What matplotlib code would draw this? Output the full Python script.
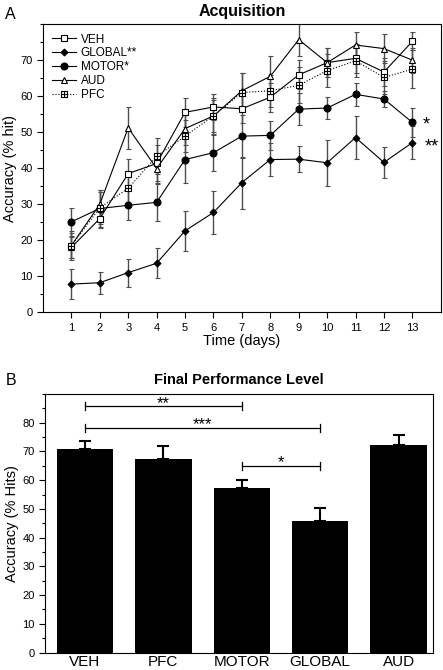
import numpy as np
import matplotlib
matplotlib.use('Agg')
import matplotlib.pyplot as plt
from matplotlib.path import Path
from matplotlib.ticker import MultipleLocator

plt.rcParams['font.family'] = ['Liberation Sans', 'DejaVu Sans']

# ---- panel A data (acquisition curves) ----
days = np.arange(1, 14)
veh = [18.0, 26.0, 38.5, 41.3, 55.5, 57.0, 56.5, 59.7, 65.9, 69.3, 70.5, 66.7, 75.2]
veh_err = [3.0, 2.5, 4.0, 5.0, 4.0, 3.5, 4.0, 4.0, 4.0, 4.0, 4.0, 4.0, 2.5]
glob = [7.8, 8.2, 11.0, 13.6, 22.6, 27.7, 36.0, 42.4, 42.5, 41.5, 48.5, 41.6, 47.1]
glob_err = [4.1, 3.1, 3.9, 4.2, 5.5, 6.0, 7.2, 4.6, 3.6, 6.4, 6.0, 4.4, 4.6]
motor = [25.1, 28.8, 29.7, 30.5, 42.4, 44.3, 48.9, 49.1, 56.4, 56.7, 60.5, 59.2, 52.7]
motor_err = [3.9, 5.0, 4.2, 5.2, 6.5, 5.0, 6.0, 4.0, 4.5, 3.0, 3.2, 2.3, 4.1]
aud = [18.5, 30.0, 51.2, 39.9, 51.0, 54.5, 61.5, 65.5, 75.7, 69.3, 74.2, 73.2, 70.0]
aud_err = [3.5, 4.0, 5.8, 4.0, 4.5, 4.5, 5.0, 5.6, 4.5, 4.0, 3.5, 4.0, 3.5]
pfc = [18.5, 29.0, 34.4, 43.3, 48.9, 54.5, 61.0, 61.5, 63.0, 67.1, 69.8, 65.2, 67.5]
pfc_err = [4.0, 4.5, 4.5, 5.0, 4.5, 5.0, 5.5, 4.5, 5.0, 4.5, 4.5, 4.5, 5.2]

# ---- panel B data (final performance) ----
groups = ['VEH', 'PFC', 'MOTOR', 'GLOBAL', 'AUD']
final = [70.9, 67.5, 57.4, 45.8, 72.4]
final_err = [2.8, 4.3, 2.6, 4.4, 3.4]
# significance brackets: (group i, group j, height, label)
brackets = [(0, 2, 85.8, '**'), (0, 3, 78.2, '***'), (2, 3, 65.0, '*')]

# square with cross marker for PFC
sqplus = Path([(-1, -1), (1, -1), (1, 1), (-1, 1), (-1, -1), (-1, 0), (1, 0), (0, -1), (0, 1)],
              [Path.MOVETO, Path.LINETO, Path.LINETO, Path.LINETO, Path.CLOSEPOLY,
               Path.MOVETO, Path.LINETO, Path.MOVETO, Path.LINETO])

fig = plt.figure(figsize=(4.43, 6.70), dpi=100)

########################## panel A ##########################
ax = fig.add_axes([0.097, 0.534, 0.898, 0.430])

ek = dict(ecolor='0.3', elinewidth=1.0, capsize=1.8, capthick=0.8, zorder=2)
series = [
    ('VEH', veh, veh_err, dict(marker='s', ms=4.5, mfc='white', mec='black', ls='-')),
    ('GLOBAL**', glob, glob_err, dict(marker='D', ms=3.5, mfc='black', mec='black', ls='-')),
    ('MOTOR*', motor, motor_err, dict(marker='o', ms=5, mfc='black', mec='black', ls='-')),
    ('AUD', aud, aud_err, dict(marker='^', ms=4.5, mfc='white', mec='black', ls='-')),
    ('PFC', pfc, pfc_err, dict(marker=sqplus, ms=4.5, mfc='white', mec='black', ls=':')),
]
for name, y, e, st in series:
    ax.errorbar(days, y, yerr=e, fmt='none', **ek)
    ax.plot(days, y, color='black', lw=0.8, mew=0.8, label=name, zorder=3, **st)

ax.text(13.5, 52.0, '*', ha='center', va='center', fontsize=13)
ax.text(13.68, 45.8, '**', ha='center', va='center', fontsize=13)

ax.set_xlim(0, 14)
ax.set_ylim(0, 80)
ax.set_xticks(days)
ax.set_yticks(np.arange(0, 80, 10))
ax.yaxis.set_minor_locator(MultipleLocator(5))
ax.tick_params(direction='out', labelsize=8, length=4, width=0.8)
ax.tick_params(which='minor', direction='out', length=2.5, width=0.8)
for s in ax.spines.values():
    s.set_linewidth(0.8)
ax.set_xlabel('Time (days)', fontsize=10.5, labelpad=1)
ax.set_ylabel('Accuracy (% hit)', fontsize=10.5, labelpad=2)
ax.set_title('Acquisition', fontsize=11.5, fontweight='bold', pad=6)
ax.legend(loc='upper left', frameon=False, fontsize=8.5, handlelength=2.0,
          handletextpad=0.4, labelspacing=0.15, borderaxespad=0.4,
          bbox_to_anchor=(0.0, 1.0))
fig.text(0.012, 0.978, 'A', fontsize=11.5, va='center')

########################## panel B ##########################
bx = fig.add_axes([0.1016, 0.026, 0.876, 0.386])
xpos = np.arange(len(groups))
bx.bar(xpos, final, width=0.72, color='black', zorder=2)
bx.errorbar(xpos, final, yerr=[np.zeros(len(final)), final_err], fmt='none',
            ecolor='black', elinewidth=1.5, capsize=4, capthick=1.5, zorder=1)
for i, j, h, lab in brackets:
    bx.plot([xpos[i], xpos[j]], [h, h], color='black', lw=0.9)
    bx.plot([xpos[i], xpos[i]], [h - 1.4, h + 1.4], color='black', lw=0.9)
    bx.plot([xpos[j], xpos[j]], [h - 1.4, h + 1.4], color='black', lw=0.9)
    bx.text((xpos[i] + xpos[j]) / 2, h - 0.6, lab, ha='center', va='baseline', fontsize=12)

bx.set_xlim(-0.51, 4.44)
bx.set_ylim(0, 90)
bx.set_xticks(xpos)
bx.set_xticklabels(groups, fontsize=11)
bx.set_yticks(np.arange(0, 90, 10))
bx.yaxis.set_minor_locator(MultipleLocator(5))
bx.tick_params(axis='y', direction='out', labelsize=8, length=4, width=0.8)
bx.tick_params(axis='x', direction='out', length=0, pad=2)
bx.tick_params(which='minor', direction='out', length=2.5, width=0.8)
for s in bx.spines.values():
    s.set_linewidth(0.8)
bx.set_ylabel('Accuracy (% Hits)', fontsize=10.5, labelpad=2)
bx.set_title('Final Performance Level', fontsize=10.5, fontweight='bold', pad=7)
fig.text(0.012, 0.432, 'B', fontsize=11.5, va='center')

fig.savefig('out.png', dpi=100)
